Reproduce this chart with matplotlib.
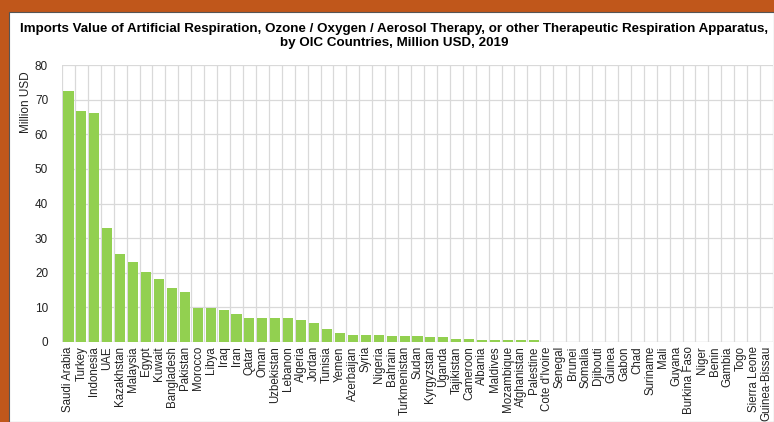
import numpy as np
import matplotlib.pyplot as plt
from matplotlib.patches import Rectangle

countries = ['Saudi Arabia', 'Turkey', 'Indonesia', 'UAE', 'Kazakhstan', 'Malaysia', 'Egypt',
             'Kuwait', 'Bangladesh', 'Pakistan', 'Morocco', 'Libya', 'Iraq', 'Iran', 'Qatar',
             'Oman', 'Uzbekistan', 'Lebanon', 'Algeria', 'Jordan', 'Tunisia', 'Yemen',
             'Azerbaijan', 'Syria', 'Nigeria', 'Bahrain', 'Turkmenistan', 'Sudan', 'Kyrgyzstan',
             'Uganda', 'Tajikistan', 'Cameroon', 'Albania', 'Maldives', 'Mozambique',
             'Afghanistan', 'Palestine', "Cote d'Ivoire", 'Senegal', 'Brunei', 'Somalia',
             'Djibouti', 'Guinea', 'Gabon', 'Chad', 'Suriname', 'Mali', 'Guyana', 'Burkina Faso',
             'Niger', 'Benin', 'Gambia', 'Togo', 'Sierra Leone', 'Guinea-Bissau']
values = [72.6, 66.6, 66.1, 33.0, 25.5, 23.0, 20.3, 18.2, 15.7, 14.3, 9.9, 9.8, 9.2, 8.1, 6.8,
          6.8, 6.8, 6.8, 6.4, 5.6, 3.8, 2.6, 2.1, 2.1, 2.1, 1.7, 1.7, 1.7, 1.35, 1.35, 1.0,
          1.0, 0.6, 0.6, 0.6, 0.6, 0.5, 0.05, 0.02, 0.02, 0.01, 0.01, 0.01, 0.01, 0.01, 0.01,
          0.01, 0.01, 0.01, 0.01, 0.01, 0.01, 0.01, 0.01, 0.01]

plt.rcParams['font.family'] = ['Liberation Sans', 'DejaVu Sans']

W, H = 774, 422
fig = plt.figure(figsize=(W / 100, H / 100), dpi=100)
fig.patch.set_facecolor('#C0571B')
fig.patches.append(Rectangle((9 / W, 0), 1 - 9 / W, 1 - 12 / H, transform=fig.transFigure,
                             facecolor='white', edgecolor='#555555', linewidth=0.8, zorder=-10))

ax = fig.add_axes([62 / W, 80 / H, (773 - 62) / W, (342 - 65) / H])
ax.set_facecolor('none')
x = np.arange(len(countries))
ax.bar(x, values, width=0.78, color='#92D050', zorder=3)

ax.set_xlim(-0.5, len(countries) - 0.5)
ax.set_ylim(0, 80)
ax.set_yticks(range(0, 81, 10))
ax.set_xticks(x)
ax.set_xticklabels(countries, rotation=90, fontsize=8.3, color='#222222')
ax.tick_params(axis='y', labelsize=8.5, colors='#222222', length=0, pad=10)
ax.tick_params(axis='x', length=0, pad=3)
for b in np.arange(-0.5, len(countries), 1.0):
    ax.axvline(b, color='#d9d9d9', linewidth=0.9, zorder=1)
ax.grid(axis='y', color='#d9d9d9', linewidth=0.9, zorder=1)
for s in ax.spines.values():
    s.set_visible(False)
ax.axhline(0, color='#d9d9d9', linewidth=0.9, zorder=2)
ax.set_ylabel('Million USD', fontsize=8.5, color='#222222')
ax.yaxis.set_label_coords(-30 / (773 - 62), 1 - 37 / (342 - 65))

fig.text(394 / W, 1 - 36 / H, 'Imports Value of Artificial Respiration, Ozone / Oxygen / Aerosol Therapy, '
         'or other Therapeutic Respiration Apparatus,\nby OIC Countries, Million USD, 2019',
         ha='center', va='center', fontsize=9.6, fontweight='bold', linespacing=1.2)

fig.savefig('out.png', dpi=100, facecolor=fig.get_facecolor())
